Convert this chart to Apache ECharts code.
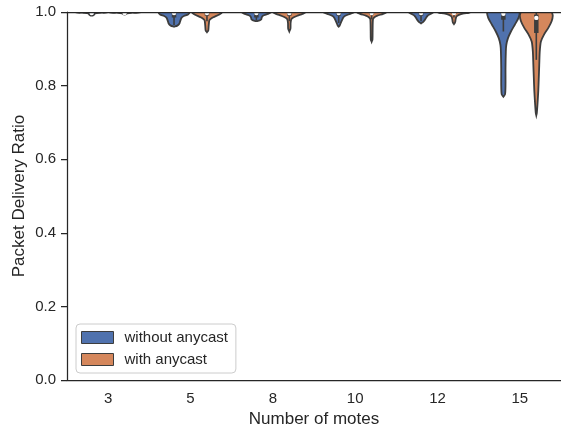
<!DOCTYPE html>
<html>
<head>
<meta charset="utf-8">
<script src="https://cdn.jsdelivr.net/npm/echarts@6/dist/echarts.min.js"></script>
<style>
html,body{margin:0;padding:0;background:#fff;}
#chart{width:561px;height:427px;}
</style>
</head>
<body>
<div id="chart"></div>
<script>
// ---- data ----
const categories = ['3', '5', '8', '10', '12', '15'];
const hueNames = ['without anycast', 'with anycast'];
const yTicks = [0, 0.2, 0.4, 0.6, 0.8, 1.0];

// violin outlines: [value, relative half width]
const violinWithout = [
  [[1.0, 1.0], [0.998, 0.5], [0.996, 0.2], [0.993, 0.15], [0.991, 0.08], [0.99, 0]],
  [[1.0, 0.95], [0.993, 0.85], [0.989, 0.6], [0.984, 0.45], [0.976, 0.38], [0.968, 0.32], [0.963, 0.2], [0.96, 0]],
  [[1.0, 0.9], [0.995, 0.7], [0.99, 0.4], [0.985, 0.32], [0.98, 0.3], [0.977, 0.2], [0.975, 0]],
  [[1.0, 0.95], [0.995, 0.7], [0.99, 0.4], [0.985, 0.28], [0.978, 0.2], [0.97, 0.12], [0.963, 0.06], [0.96, 0]],
  [[1.0, 0.75], [0.995, 0.6], [0.99, 0.4], [0.985, 0.32], [0.978, 0.22], [0.972, 0.1], [0.969, 0]],
  [[1.0, 1.0], [0.984, 0.92], [0.966, 0.7], [0.947, 0.46], [0.929, 0.28], [0.911, 0.18], [0.893, 0.15], [0.848, 0.13], [0.80, 0.13], [0.776, 0.1], [0.77, 0]]
];
const violinWith = [
  [[1.0, 1.0], [0.998, 0.4], [0.996, 0.15], [0.994, 0.08], [0.993, 0]],
  [[1.0, 0.92], [0.993, 0.75], [0.988, 0.5], [0.984, 0.3], [0.978, 0.15], [0.97, 0.12], [0.96, 0.1], [0.95, 0.08], [0.945, 0]],
  [[1.0, 1.0], [0.995, 0.8], [0.99, 0.5], [0.985, 0.25], [0.98, 0.12], [0.97, 0.08], [0.955, 0.07], [0.947, 0]],
  [[1.0, 0.9], [0.995, 0.7], [0.99, 0.35], [0.985, 0.15], [0.98, 0.08], [0.95, 0.06], [0.925, 0.05], [0.919, 0]],
  [[1.0, 1.0], [0.996, 0.6], [0.992, 0.3], [0.988, 0.15], [0.98, 0.1], [0.972, 0.07], [0.967, 0]],
  [[1.0, 0.95], [0.99, 1.0], [0.975, 0.93], [0.957, 0.73], [0.938, 0.46], [0.92, 0.28], [0.893, 0.21], [0.857, 0.18], [0.82, 0.15], [0.785, 0.12], [0.748, 0.07], [0.725, 0.03], [0.719, 0]]
];
// inner box stats: [whisker low, q1, median, q3, whisker high]
const boxWithout = [
  [0.993, 0.998, 0.997, 1.0, 1.0],
  [0.965, 0.985, 0.997, 1.0, 1.0],
  [0.977, 0.985, 0.997, 1.0, 1.0],
  [0.97, 0.99, 0.997, 1.0, 1.0],
  [0.975, 0.99, 0.997, 1.0, 1.0],
  [0.947, 0.979, 0.995, 1.0, 1.0]
];
const boxWith = [
  [0.995, 0.999, 0.997, 1.0, 1.0],
  [0.975, 0.99, 0.997, 1.0, 1.0],
  [0.975, 0.99, 0.997, 1.0, 1.0],
  [0.98, 0.993, 0.997, 1.0, 1.0],
  [0.985, 0.995, 0.997, 1.0, 1.0],
  [0.87, 0.943, 0.984, 0.993, 1.0]
];

// ---- style ----
const colors = ['#5072ae', '#d5875c'];
const edge = '#3d3d3d';
const ink = '#262626';
const font = '"Liberation Sans", Arial, sans-serif';

function makeRender(profiles, boxes, side, color) {
  return function (params, api) {
    const i = api.value(0);
    const prof = profiles[i];
    const box = boxes[i];
    const band = api.size([1, 0])[0];
    const cx = api.coord([i, 0])[0] + side * 0.2 * band;
    const hw = 0.2 * band;
    const yOf = v => api.coord([i, v])[1];
    const left = [[cx - prof[0][1] * hw, yOf(1.03)]];
    prof.forEach(p => left.push([cx - p[1] * hw, yOf(p[0])]));
    const right = [];
    for (let k = prof.length - 1; k >= 0; k--) right.push([cx + prof[k][1] * hw, yOf(prof[k][0])]);
    right.push([cx + prof[0][1] * hw, yOf(1.03)]);
    const pts = left.concat(right);
    return {
      type: 'group',
      children: [
        { type: 'polygon', shape: { points: pts, smooth: 0.25 },
          style: { fill: color, stroke: edge, lineWidth: 1.8 } },
        { type: 'line', shape: { x1: cx, y1: yOf(box[0]), x2: cx, y2: yOf(box[4]) },
          style: { stroke: edge, lineWidth: 1.6 } },
        { type: 'line', shape: { x1: cx, y1: yOf(box[1]), x2: cx, y2: yOf(box[3]) },
          style: { stroke: edge, lineWidth: 4.5 } },
        { type: 'circle', shape: { cx: cx, cy: yOf(box[2]), r: 2.2 },
          style: { fill: '#ffffff' } }
      ]
    };
  };
}

const chart = echarts.init(document.getElementById('chart'), null, { renderer: 'canvas' });
chart.setOption({
  animation: false,
  backgroundColor: '#ffffff',
  textStyle: { fontFamily: font },
  grid: { left: 67, right: 0, top: 12, bottom: 47, containLabel: false, outerBoundsMode: 'none' },
  legend: {
    orient: 'vertical', left: 76, top: 324,
    itemWidth: 32, itemHeight: 12, itemGap: 7,
    padding: [6, 8, 6, 5],
    backgroundColor: 'rgba(255,255,255,0.8)',
    borderColor: '#cccccc', borderWidth: 1, borderRadius: 4,
    textStyle: { fontSize: 15, color: ink, fontFamily: font, padding: [0, 0, 0, 6] },
    data: hueNames.map((n, k) => ({ name: n, icon: 'rect',
      itemStyle: { color: colors[k], borderColor: edge, borderWidth: 1 } }))
  },
  xAxis: [{
    type: 'category', data: categories, boundaryGap: true,
    name: 'Number of motes', nameLocation: 'middle', nameGap: 31, nameMoveOverlap: false,
    nameTextStyle: { fontSize: 17, color: ink, fontFamily: font },
    axisLine: { lineStyle: { color: ink, width: 1.25 } },
    axisTick: { alignWithLabel: true, length: 6, lineStyle: { color: ink, width: 1.25 } },
    axisLabel: { fontSize: 15, color: ink, margin: 11, fontFamily: font },
    splitLine: { show: false }
  }, {
    type: 'category', data: categories, position: 'top', z: 5,
    axisLine: { lineStyle: { color: ink, width: 1.25 } },
    axisTick: { show: false }, axisLabel: { show: false }
  }],
  yAxis: {
    type: 'value', min: 0, max: 1, interval: 0.2,
    name: 'Packet Delivery Ratio', nameLocation: 'middle', nameGap: 39, nameMoveOverlap: false,
    nameTextStyle: { fontSize: 17, color: ink, fontFamily: font },
    axisLine: { show: true, lineStyle: { color: ink, width: 1.25 } },
    axisTick: { show: true, length: 6, lineStyle: { color: ink, width: 1.25 } },
    axisLabel: { fontSize: 15, color: ink, margin: 11, fontFamily: font,
      formatter: v => (yTicks.some(t => Math.abs(t - v) < 1e-9) ? v.toFixed(1) : '') },
    splitLine: { show: false }
  },
  series: [
    { name: hueNames[0], type: 'custom', clip: true,
      itemStyle: { color: colors[0] },
      renderItem: makeRender(violinWithout, boxWithout, -1, colors[0]),
      data: categories.map((c, i) => [i]) },
    { name: hueNames[1], type: 'custom', clip: true,
      itemStyle: { color: colors[1] },
      renderItem: makeRender(violinWith, boxWith, 1, colors[1]),
      data: categories.map((c, i) => [i]) }
  ]
});
</script>
</body>
</html>
